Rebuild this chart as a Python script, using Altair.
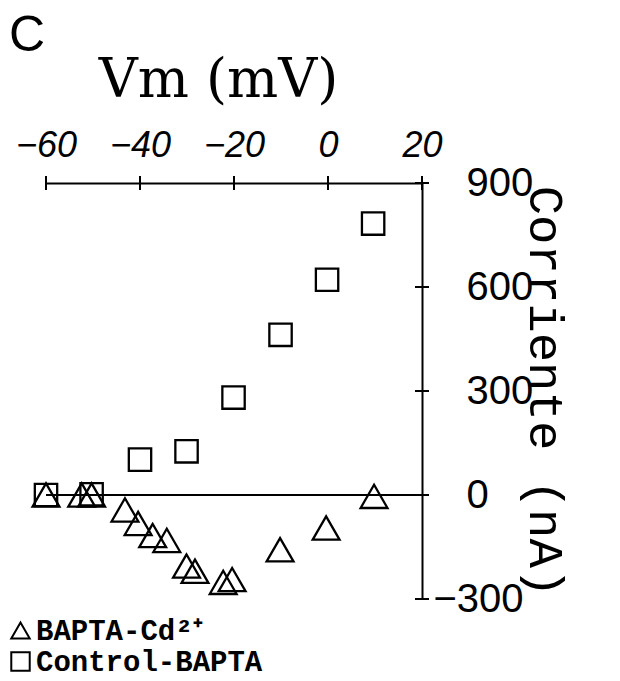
import altair as alt
import pandas as pd

# Data
tri_label = "BAPTA-Cd²⁺"
sq_label = "Control-BAPTA"

tri_x = [-60, -52.4, -50.3, -43.2, -40.4, -37.3, -34.3, -30.1, -28.3, -22.3, -20.4, -10.2, -0.4, 9.8]
tri_y = [0, 0, 0, -43, -82, -117, -131, -205, -220, -252, -244, -158, -95, -4]

sq_x = [-60, -50.3, -40, -30.1, -20.1, -10.1, -0.2, 9.6]
sq_y = [0, 2, 102, 126, 281, 462, 621, 783]

x_ticks = [-60, -40, -20, 0, 20]
y_ticks = [-300, 0, 300, 600, 900]
x_domain = [-60, 20]
y_domain = [-300, 900]

df = pd.DataFrame(
    {
        "Vm": tri_x + sq_x,
        "I": tri_y + sq_y,
        "serie": [tri_label] * len(tri_x) + [sq_label] * len(sq_x),
    }
)
xt = pd.DataFrame({"Vm": x_ticks, "I": [y_domain[1]] * len(x_ticks)})
yt = pd.DataFrame({"Vm": [x_domain[1]] * len(y_ticks), "I": y_ticks})
zero = pd.DataFrame({"Vm": [x_domain[0]], "Vm2": [x_domain[1]], "I": [0]})

xscale = alt.Scale(domain=x_domain, nice=False, zero=False)
yscale = alt.Scale(domain=y_domain, nice=False, zero=False)

x_axis = alt.Axis(
    orient="top",
    values=x_ticks,
    title="Vm (mV)",
    titleFont="DejaVu Serif",
    titleFontSize=54,
    titleFontWeight="normal",
    titleColor="black",
    titleX=172,
    titleY=-87,
    titleAlign="center",
    titleBaseline="alphabetic",
    labelFont="Liberation Sans",
    labelFontStyle="italic",
    labelFontSize=36,
    labelColor="black",
    labelBaseline="alphabetic",
    labelPadding=27,
    labelFlush=False,
    labelOverlap=False,
    tickSize=0,
    domainColor="black",
    domainWidth=2,
    grid=False,
)

y_axis = alt.Axis(
    orient="right",
    values=y_ticks,
    title="Corriente (nA)",
    titleFont="Liberation Mono",
    titleFontSize=49,
    titleFontWeight="normal",
    titleColor="black",
    titleAngle=90,
    titleX=122,
    titleY=208,
    titleAlign="center",
    titleBaseline="middle",
    labelFont="Liberation Sans",
    labelFontSize=40,
    labelColor="black",
    labelAlign="left",
    labelBaseline="middle",
    labelPadding={"condition": {"test": "datum.value < 0", "value": 11}, "value": 44},
    labelFlush=False,
    labelOverlap=False,
    tickSize=0,
    domainColor="black",
    domainWidth=2,
    grid=False,
)

shape_enc = alt.Shape(
    "serie:N",
    scale=alt.Scale(domain=[tri_label, sq_label], range=["triangle-up", "square"]),
    legend=alt.Legend(
        title=None,
        orient="none",
        legendX=-40,
        legendY=433,
        labelFont="Liberation Mono",
        labelFontWeight="bold",
        labelFontSize=29,
        labelColor="black",
        labelOffset=1,
        labelLimit=500,
        symbolSize=340,
        symbolStrokeColor="black",
        symbolFillColor="transparent",
        symbolStrokeWidth=2,
        rowPadding=1,
        padding=0,
    ),
)

X = alt.X("Vm:Q", scale=xscale, axis=x_axis)
Y = alt.Y("I:Q", scale=yscale, axis=y_axis)

base = alt.Chart(df).encode(x=X, y=Y, shape=shape_enc)

tri_pts = base.transform_filter(alt.datum.serie == tri_label).mark_point(
    filled=False, color="black", strokeWidth=2.3, opacity=1, size=720
)
sq_pts = base.transform_filter(alt.datum.serie == sq_label).mark_point(
    filled=False, color="black", strokeWidth=2.3, opacity=1, size=500
)

zero_line = (
    alt.Chart(zero)
    .mark_rule(color="black", strokeWidth=2)
    .encode(x=X, x2="Vm2:Q", y=Y)
)

x_tick_marks = (
    alt.Chart(xt)
    .mark_tick(color="black", orient="vertical", size=14, thickness=2, opacity=1)
    .encode(x=X, y=Y)
)

y_tick_marks = (
    alt.Chart(yt)
    .mark_tick(color="black", orient="horizontal", size=14, thickness=2, opacity=1)
    .encode(x=X, y=Y)
)

chart = (
    alt.layer(tri_pts, sq_pts, zero_line, x_tick_marks, y_tick_marks)
    .properties(
        width=376,
        height=416,
        title=alt.TitleParams(
            "C",
            anchor="start",
            font="Liberation Sans",
            fontSize=50,
            fontWeight="normal",
            color="black",
            dx=3,
            dy=8,
            offset=0,
        ),
        autosize=alt.AutoSizeParams(type="none"),
        padding={"left": 38, "top": 175, "right": 180, "bottom": 80},
        view=alt.ViewBackground(stroke="transparent", strokeWidth=0, fill="white"),
    )
    .configure_view(stroke="transparent", strokeWidth=0)
    .configure_axis(grid=False)
    .configure(background="white")
)

chart.save("out.html", embed_options={"renderer": "svg", "actions": False})
